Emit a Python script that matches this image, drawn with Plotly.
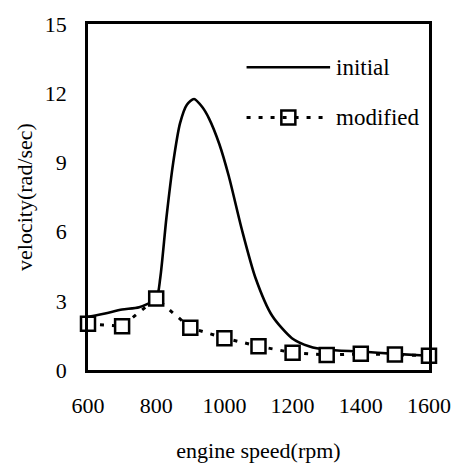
import plotly.graph_objects as go

init_x = [600, 650, 700, 750, 800, 812, 830, 850, 870, 890, 911, 935, 955, 985, 1013, 1051, 1091, 1140, 1198, 1250, 1300, 1400, 1500, 1600]
init_y = [2.3, 2.45, 2.62, 2.72, 3.1, 4.0, 6.6, 9.0, 10.7, 11.5, 11.75, 11.4, 10.9, 9.8, 8.4, 6.1, 4.0, 2.35, 1.38, 1.02, 0.88, 0.8, 0.7, 0.62]

# modified (dotted + squares)
mod_x = [600, 700, 800, 900, 1000, 1100, 1200, 1300, 1400, 1500, 1600]
mod_y = [2.0, 1.9, 3.1, 1.83, 1.38, 1.03, 0.75, 0.65, 0.7, 0.67, 0.62]

x_ticks = [600, 800, 1000, 1200, 1400, 1600]
y_ticks = [0, 3, 6, 9, 12, 15]

FONT = "Liberation Serif"

fig = go.Figure()
fig.add_trace(go.Scatter(x=init_x, y=init_y, mode="lines", name="initial",
                         line=dict(color="black", width=2.6, shape="spline", smoothing=0.7),
                         showlegend=False, cliponaxis=False))
fig.add_trace(go.Scatter(x=mod_x, y=mod_y, mode="lines+markers", name="modified",
                         line=dict(color="black", width=3, dash="4px,8px"),
                         marker=dict(symbol="square", size=14, color="white",
                                     line=dict(color="black", width=2.5)),
                         showlegend=False, cliponaxis=False))

# legend drawn manually (paper coords)
fig.add_shape(type="line", xref="paper", yref="paper", x0=0.465, x1=0.71, y0=0.875, y1=0.875,
              line=dict(color="black", width=2.4))
fig.add_shape(type="line", xref="paper", yref="paper", x0=0.465, x1=0.71, y0=0.73, y1=0.73,
              line=dict(color="black", width=3, dash="4px,8px"))
fig.add_trace(go.Scatter(x=[0.5875], y=[0.73], xaxis="x2", yaxis="y2", mode="markers",
                         marker=dict(symbol="square", size=14, color="white",
                                     line=dict(color="black", width=2.5)),
                         showlegend=False, hoverinfo="skip"))
fig.add_annotation(xref="paper", yref="paper", x=0.722, y=0.875, text="initial", showarrow=False,
                   xanchor="left", yanchor="middle", font=dict(family=FONT, size=23, color="black"))
fig.add_annotation(xref="paper", yref="paper", x=0.722, y=0.73, text="modified", showarrow=False,
                   xanchor="left", yanchor="middle", font=dict(family=FONT, size=23, color="black"))

fig.update_layout(
    width=463, height=472,
    margin=dict(l=88, r=31, t=17, b=99),
    plot_bgcolor="white", paper_bgcolor="white",
    font=dict(family=FONT, size=22, color="black"),
    xaxis=dict(range=[600, 1600], tickvals=x_ticks, ticktext=[str(v) for v in x_ticks],
               showgrid=False, zeroline=False, showline=True, mirror=True,
               linecolor="black", linewidth=2.5, ticks="", ticklabelstandoff=14,
               title=dict(text="engine speed(rpm)", standoff=26, font=dict(size=22))),
    yaxis=dict(range=[0, 15], tickvals=y_ticks, ticktext=[str(v) for v in y_ticks],
               showgrid=False, zeroline=False, showline=True, mirror=True,
               linecolor="black", linewidth=2.5, ticks="", ticklabelstandoff=14,
               title=dict(text="velocity(rad/sec)", standoff=7, font=dict(size=22))),
    xaxis2=dict(range=[0, 1], overlaying="x", visible=False),
    yaxis2=dict(range=[0, 1], overlaying="y", visible=False),
)

fig.write_html("out.html")
